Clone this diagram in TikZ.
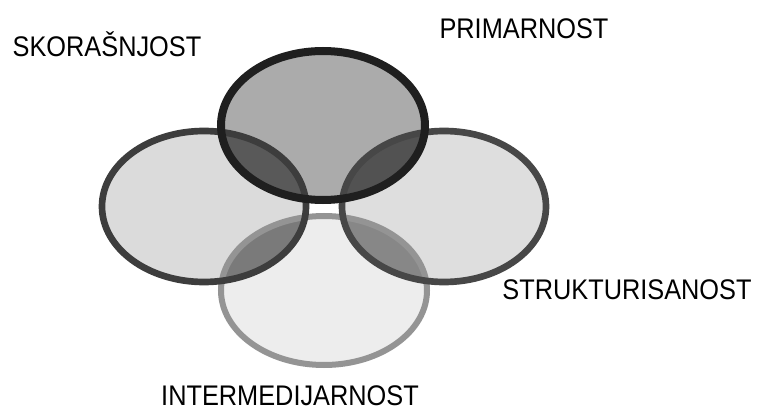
\documentclass[tikz,border=0pt]{standalone}
\usepackage{fontspec}
\setmainfont{Liberation Sans}
\usepackage{tikz}
\usetikzlibrary{positioning}

\newcommand{\elltop}{(323,125.5) ellipse [x radius=102, y radius=74.5]}
\newcommand{\ellleft}{(204,206.5) ellipse [x radius=102, y radius=75.5]}
\newcommand{\ellright}{(444,206.5) ellipse [x radius=102, y radius=75.5]}
\newcommand{\ellbottom}{(324,290.5) ellipse [x radius=103, y radius=74.5]}
\newcommand{\tall}[1]{\scalebox{1}[1.12]{#1}}

\begin{document}
\begin{tikzpicture}[
    x=0.75pt, y=-0.75pt,
    lbl/.style={inner sep=0pt, anchor=base, font=\fontsize{19}{21}\selectfont},
    ring/.style={line width=#1}
]
    \useasboundingbox[fill=white] (0,0) rectangle (758,410);

    \fill[black!33] \elltop;
    \fill[black!14] \ellleft;
    \fill[black!13] \ellright;
    \fill[black!7] \ellbottom;

    \begin{scope}
        \clip \elltop;
        \fill[black!65] \ellleft;
        \fill[black!68] \ellright;
    \end{scope}
    \begin{scope}
        \clip \ellbottom;
        \fill[black!52] \ellleft;
        \fill[black!47] \ellright;
    \end{scope}

    \draw[ring=4.5pt, black!42] \ellbottom;
    \draw[ring=5pt, black!72] \ellright;
    \draw[ring=5pt, black!76] \ellleft;
    \draw[ring=6pt, black!88] \elltop;

    \node[lbl] (skor) at (107,57) {\tall{SKORAŠNJOST}};
    \node[lbl] (prim) at (524,39) {\tall{PRIMARNOST}};
    \node[lbl] (struk) at (627,299) {\tall{STRUKTURISANOST}};
    \node[lbl] (inter) at (290,405) {\tall{INTERMEDIJARNOST}};
\end{tikzpicture}
\end{document}
